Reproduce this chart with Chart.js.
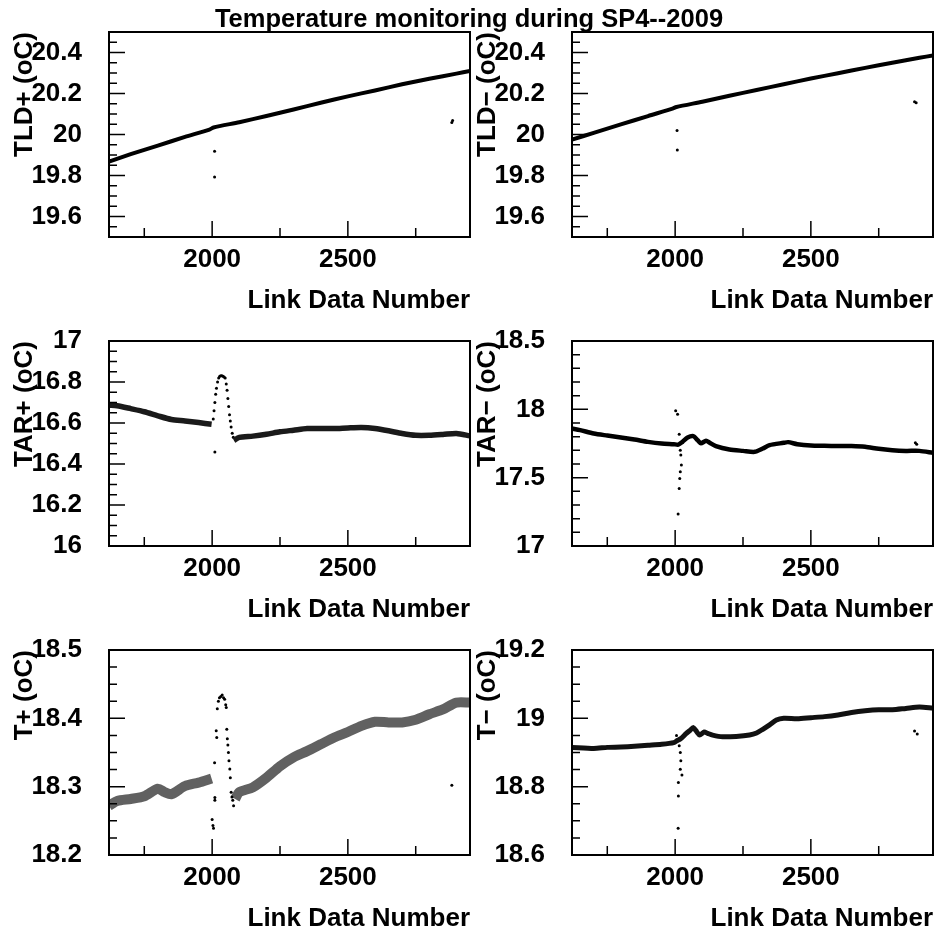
<!DOCTYPE html>
<html>
<head>
<meta charset="utf-8">
<script src="https://cdn.jsdelivr.net/npm/chart.js@4.4.1/dist/chart.umd.min.js"></script>
<style>
  body { margin: 0; background: #fff; overflow: hidden; }
  #wrap { position: relative; width: 938px; height: 935px; }
  #wrap canvas { position: absolute; }
  #bigtitle {
    position: absolute; left: 0; top: 4px; width: 938px; text-align: center;
    font: bold 25.5px 'Liberation Sans', Arial, sans-serif; line-height: 28px; color: #000;
  }
</style>
</head>
<body>
<div id="wrap">
  <canvas id="c1" width="474" height="318" style="left:0;top:0"></canvas>
  <canvas id="c2" width="474" height="318" style="left:463px;top:0"></canvas>
  <canvas id="c3" width="474" height="318" style="left:0;top:309px"></canvas>
  <canvas id="c4" width="474" height="318" style="left:463px;top:309px"></canvas>
  <canvas id="c5" width="474" height="318" style="left:0;top:618px"></canvas>
  <canvas id="c6" width="474" height="318" style="left:463px;top:618px"></canvas>
  <div id="bigtitle">Temperature monitoring during SP4--2009</div>
</div>
<script>
// x axis (Link Data Number)
const xMin = 1620, xMax = 2950;
const xTickLabels = [2000, 2500];

// y tick labels of each pad
const tldTicks = [19.6, 19.8, 20, 20.2, 20.4];
const tarPlusTicks = [16, 16.2, 16.4, 16.6, 16.8, 17];
const tarMinusTicks = [17, 17.5, 18, 18.5];
const tPlusTicks = [18.2, 18.3, 18.4, 18.5];
const tMinusTicks = [18.6, 18.8, 19, 19.2];

// TLD+
const tldPlusX = [1620, 1700, 1800, 1900, 1990, 2005, 2100, 2200, 2300, 2400, 2500, 2600, 2700, 2800, 2900, 2950];
const tldPlusY = [19.868, 19.904, 19.946, 19.988, 20.024, 20.034, 20.06, 20.09, 20.122, 20.155, 20.186, 20.215, 20.245, 20.272, 20.297, 20.31];
const tldPlusDotX = [2009, 2009, 2883, 2886];
const tldPlusDotY = [19.918, 19.793, 20.058, 20.068];

// TLD-
const tldMinusX = [1620, 1700, 1800, 1900, 1990, 2005, 2100, 2200, 2300, 2400, 2500, 2600, 2700, 2800, 2900, 2950];
const tldMinusY = [19.975, 20.008, 20.049, 20.09, 20.126, 20.134, 20.16, 20.189, 20.217, 20.245, 20.273, 20.299, 20.325, 20.35, 20.374, 20.386];
const tldMinusDotX = [2007, 2008, 2882, 2888];
const tldMinusDotY = [20.02, 19.925, 20.16, 20.155];

// TAR+
const tarPlusX1 = [1620, 1650, 1700, 1750, 1800, 1850, 1900, 1950, 1998];
const tarPlusY1 = [16.687, 16.684, 16.67, 16.655, 16.635, 16.617, 16.61, 16.602, 16.594];
const tarPlusX2 = [2080, 2100, 2150, 2200, 2250, 2300, 2350, 2400, 2450, 2500, 2550, 2600, 2650, 2700, 2750, 2800, 2850, 2900, 2950];
const tarPlusY2 = [16.515, 16.53, 16.536, 16.545, 16.557, 16.565, 16.573, 16.573, 16.573, 16.576, 16.578, 16.573, 16.562, 16.549, 16.54, 16.54, 16.544, 16.549, 16.537];
const tarPlusDotX = [2004, 2007, 2010, 2013, 2016, 2020, 2024, 2028, 2032, 2036, 2040, 2044, 2048, 2052, 2055, 2058, 2061, 2064, 2067, 2070, 2074, 2078, 2010];
const tarPlusDotY = [16.62, 16.66, 16.70, 16.74, 16.77, 16.80, 16.82, 16.828, 16.83, 16.83, 16.828, 16.825, 16.82, 16.79, 16.76, 16.72, 16.68, 16.64, 16.61, 16.58, 16.55, 16.53, 16.459];

// TAR-
const tarMinusX = [1620, 1650, 1700, 1750, 1800, 1850, 1900, 1950, 1995, 2012,
  2027, 2046, 2067, 2083, 2095, 2114, 2126, 2150,
  2200, 2250, 2293, 2323, 2348, 2400, 2416, 2450, 2500, 2550, 2600, 2650, 2700, 2750, 2800, 2850, 2900, 2950];
const tarMinusY = [17.86, 17.848, 17.823, 17.808, 17.794, 17.779, 17.762, 17.75, 17.745, 17.742,
  17.762, 17.794, 17.804, 17.774, 17.752, 17.77, 17.757, 17.731,
  17.706, 17.696, 17.689, 17.713, 17.738, 17.755, 17.76, 17.745, 17.735, 17.733, 17.731, 17.731, 17.726, 17.711, 17.701, 17.696, 17.696, 17.682];
const tarMinusDotX = [2002, 2009, 2015, 2019, 2021, 2023, 2019, 2017, 2015, 2011, 2885, 2890];
const tarMinusDotY = [17.989, 17.964, 17.818, 17.70, 17.665, 17.592, 17.543, 17.494, 17.42, 17.234, 17.755, 17.745];

// T+
const tPlusX1 = [1620, 1650, 1700, 1750, 1800, 1825, 1850, 1900, 1950, 1998];
const tPlusY1 = [18.272, 18.279, 18.282, 18.286, 18.297, 18.292, 18.289, 18.301, 18.306, 18.312];
const tPlusX2 = [2085, 2100, 2150, 2200, 2250, 2300, 2350, 2400, 2450, 2500, 2550, 2600, 2650, 2700, 2750, 2800, 2850, 2900, 2950];
const tPlusY2 = [18.282, 18.292, 18.299, 18.313, 18.33, 18.343, 18.352, 18.362, 18.372, 18.38, 18.389, 18.395, 18.394, 18.394, 18.398, 18.406, 18.413, 18.423, 18.423];
const tPlusDotX = [2000, 2003, 2005, 2009, 2010, 2010, 2015, 2017, 2019, 2023, 2027, 2032, 2037, 2042, 2046, 2050, 2052, 2054, 2056, 2058, 2060, 2062, 2065, 2067, 2070, 2073, 2076, 2079, 2883];
const tPlusDotY = [18.252, 18.243, 18.239, 18.335, 18.28, 18.284, 18.382, 18.372, 18.414, 18.425, 18.43, 18.432, 18.434, 18.43, 18.428, 18.42, 18.416, 18.384, 18.37, 18.361, 18.35, 18.338, 18.326, 18.313, 18.292, 18.285, 18.28, 18.272, 18.302];

// T-
const tMinusX = [1620, 1700, 1750, 1800, 1850, 1900, 1950, 1995,
  2008, 2020, 2040, 2055, 2067, 2080, 2090, 2107, 2120, 2138, 2175,
  2225, 2274, 2300, 2323, 2348, 2373, 2400,
  2450, 2500, 2550, 2600, 2650, 2700, 2750, 2800, 2850, 2900, 2950];
const tMinusY = [18.915, 18.912, 18.915, 18.916, 18.918, 18.921, 18.924, 18.929,
  18.935, 18.94, 18.955, 18.965, 18.973, 18.96, 18.951, 18.96, 18.956, 18.951, 18.946,
  18.947, 18.951, 18.957, 18.968, 18.981, 18.995, 19.0,
  18.999, 19.002, 19.005, 19.01, 19.017, 19.022, 19.025, 19.025, 19.029, 19.033, 19.03];
const tMinusDotX = [2005, 2015, 2019, 2021, 2019, 2025, 2012, 2012, 2011, 2882, 2892];
const tMinusDotY = [18.95, 18.92, 18.90, 18.876, 18.851, 18.834, 18.812, 18.773, 18.678, 18.963, 18.954];


Chart.defaults.font.family = "'Liberation Sans', Arial, sans-serif";
Chart.defaults.font.weight = 'bold';
Chart.defaults.font.size = 26;
Chart.defaults.color = '#000';

// ROOT like frame with inward tick marks
const rootFrame = {
    id: 'rootFrame',
    afterDraw(chart, args, opts) {
        const ctx = chart.ctx;
        const a = chart.chartArea;
        const x = chart.scales.x;
        const y = chart.scales.y;
        ctx.save();
        ctx.strokeStyle = '#000';
        ctx.lineWidth = 1.5;
        ctx.beginPath();
        for (let v = 1750; v <= x.max; v += 250) {
            let px = x.getPixelForValue(v);
            let len = (v % 500 === 0) ? 16 : 9;
            ctx.moveTo(px, a.bottom);
            ctx.lineTo(px, a.bottom - len);
        }
        let n = Math.round((y.max - y.min) / opts.minor);
        for (let i = 1; i < n; i++) {
            let v = y.min + i * opts.minor;
            let py = y.getPixelForValue(v);
            let isMajor = opts.ticks.some(t => Math.abs(t - v) < 1e-6);
            ctx.moveTo(a.left, py);
            ctx.lineTo(a.left + (isMajor ? 16 : 8), py);
        }
        ctx.stroke();
        ctx.lineWidth = 2;
        ctx.strokeRect(a.left, a.top, a.right - a.left, a.bottom - a.top);
        ctx.restore();
    }
};

function pts(xs, ys) {
    return xs.map((v, i) => ({x: v, y: ys[i]}));
}

// invisible grid ticks are used only as label offset
function hiddenGrid(len) {
    return {display: true, drawOnChartArea: false, drawTicks: true, tickLength: len, color: 'rgba(0,0,0,0)'};
}

function drawPad(id, yTitle, yMin, yMax, yTicks, minor, bands, dots, bandWidth, bandColor)
{
    let datasets = [];
    bands.forEach(b => {
        datasets.push({
            data: pts(b[0], b[1]),
            showLine: true,
            borderColor: bandColor,
            borderWidth: bandWidth,
            pointRadius: 0,
            tension: 0.25
        });
    });
    datasets.push({
        data: pts(dots[0], dots[1]),
        showLine: false,
        pointRadius: 1.5,
        pointBackgroundColor: '#000',
        pointBorderWidth: 0
    });

    new Chart(document.getElementById(id), {
        type: 'scatter',
        data: {datasets: datasets},
        options: {
            responsive: false,
            animation: false,
            events: [],
            layout: {padding: {top: 32, right: 0, bottom: 0, left: 0}},
            plugins: {
                legend: {display: false},
                tooltip: {enabled: false},
                rootFrame: {minor: minor, ticks: yTicks}
            },
            scales: {
                x: {
                    type: 'linear',
                    min: xMin,
                    max: xMax,
                    grid: hiddenGrid(7),
                    border: {display: false},
                    afterBuildTicks: (s) => { s.ticks = xTickLabels.map(v => ({value: v})); },
                    afterFit: (s) => { s.height = 81; },
                    ticks: {padding: 0, autoSkip: false, maxRotation: 0, callback: (v) => String(v)},
                    title: {display: true, text: 'Link Data Number', align: 'end', padding: {top: 0, bottom: 2}}
                },
                y: {
                    type: 'linear',
                    min: yMin,
                    max: yMax,
                    grid: hiddenGrid(27),
                    border: {display: false},
                    afterBuildTicks: (s) => { s.ticks = yTicks.map(v => ({value: v})); },
                    afterFit: (s) => { s.width = 109; },
                    ticks: {padding: 0, autoSkip: false, callback: (v) => String(v)},
                    title: {display: true, text: yTitle, align: 'end', padding: {top: 9, bottom: 0}}
                }
            }
        },
        plugins: [rootFrame]
    });
}

drawPad('c1', 'TLD+ (oC)', 19.5, 20.5, tldTicks, 0.05, [[tldPlusX, tldPlusY]], [tldPlusDotX, tldPlusDotY], 4, '#000');
drawPad('c2', 'TLD\u2212 (oC)', 19.5, 20.5, tldTicks, 0.05, [[tldMinusX, tldMinusY]], [tldMinusDotX, tldMinusDotY], 4, '#000');
drawPad('c3', 'TAR+ (oC)', 16, 17, tarPlusTicks, 0.05, [[tarPlusX1, tarPlusY1], [tarPlusX2, tarPlusY2]], [tarPlusDotX, tarPlusDotY], 5.5, '#1a1a1a');
drawPad('c4', 'TAR\u2212 (oC)', 17, 18.5, tarMinusTicks, 0.1, [[tarMinusX, tarMinusY]], [tarMinusDotX, tarMinusDotY], 4.5, '#000');
drawPad('c5', 'T+ (oC)', 18.2, 18.5, tPlusTicks, 0.025, [[tPlusX1, tPlusY1], [tPlusX2, tPlusY2]], [tPlusDotX, tPlusDotY], 10, 'rgba(0,0,0,0.62)');
drawPad('c6', 'T\u2212 (oC)', 18.6, 19.2, tMinusTicks, 0.05, [[tMinusX, tMinusY]], [tMinusDotX, tMinusDotY], 5, '#111');
</script>
</body>
</html>
